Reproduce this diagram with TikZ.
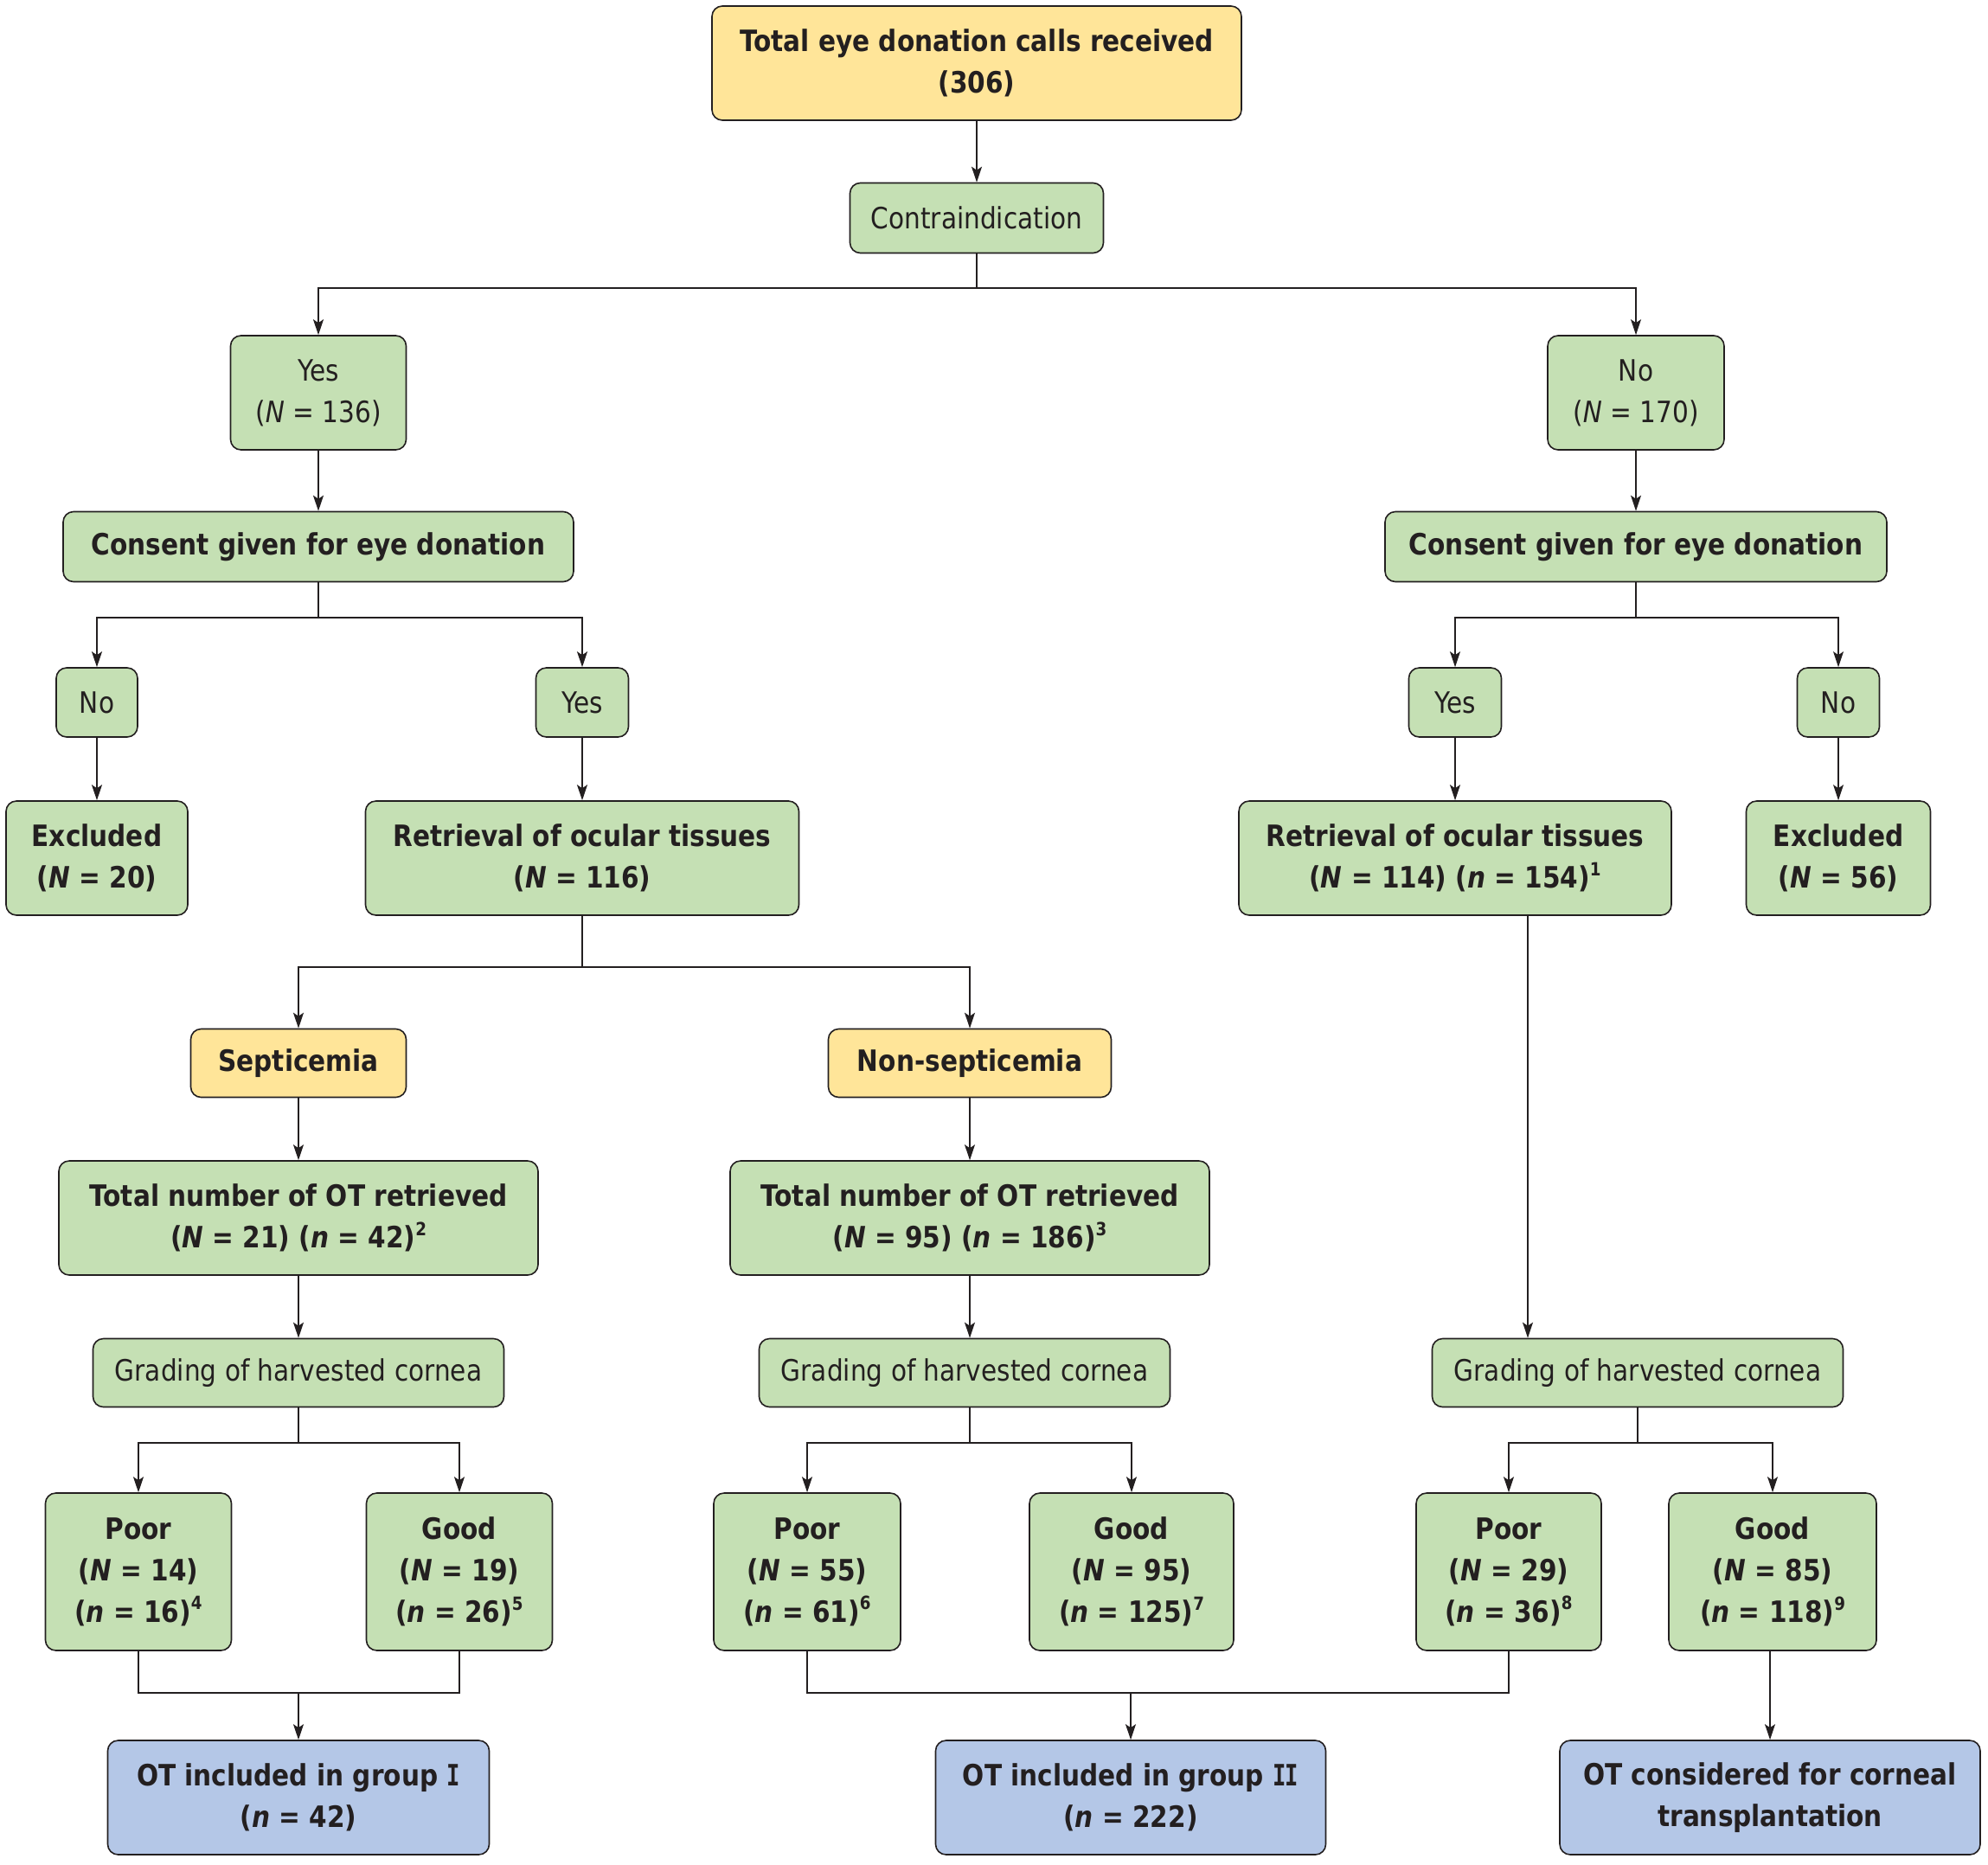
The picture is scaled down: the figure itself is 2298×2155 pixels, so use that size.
\documentclass[tikz,border=0pt]{standalone}
\usepackage{fontspec}
\setmainfont{DejaVu Sans}[FakeStretch=0.87]
\newfontfamily\ifont{DejaVu Sans Mono}[FakeStretch=0.75]
\usetikzlibrary{arrows.meta}
\definecolor{gfill}{HTML}{C5E0B4}
\definecolor{yfill}{HTML}{FFE599}
\definecolor{bfill}{HTML}{B4C7E7}
\definecolor{bord}{HTML}{231F20}
\newcommand{\sps}[1]{\raisebox{0.78ex}{\fontsize{21}{21}\selectfont #1}}
\newcommand{\serifI}{{\ifont\bfseries I}}
\tikzset{
  boxbase/.style={draw=bord, line width=1.6pt, rounded corners=12pt, align=center, inner sep=0pt, text=bord},
  gbox/.style={boxbase, fill=gfill},
  ybox/.style={boxbase, fill=yfill},
  bbox/.style={boxbase, fill=bfill},
  wh/.style 2 args={minimum width=#1, minimum height=#2},
  ln/.style={draw=bord, line width=1.4pt},
  arr/.style={ln, -{Stealth[length=18pt,width=12pt,inset=4pt]}},
}
\begin{document}
\begin{tikzpicture}[x=1pt,y=-1pt, font=\fontsize{34}{48}\selectfont]
\useasboundingbox (0,0) rectangle (2298,2155);
% nodes
\node[ybox, wh={612}{132}] (top) at (1129,73) {\bfseries Total eye donation calls received\\\bfseries(306)};
\node[gbox, wh={293}{81}] (contra) at (1129,252) {Contraindication};
\node[gbox, wh={203}{132}] (yesA) at (368,454) {Yes\\(\textit{N} = 136)};
\node[gbox, wh={204}{132}] (noA) at (1891,454) {No\\(\textit{N} = 170)};
\node[gbox, wh={590}{81}] (consL) at (368,632) {\bfseries Consent given for eye donation};
\node[gbox, wh={580}{81}] (consR) at (1891,632) {\bfseries Consent given for eye donation};
\node[gbox, wh={94}{80}] (noL) at (112,812) {No};
\node[gbox, wh={107}{80}] (yesL) at (673,812) {Yes};
\node[gbox, wh={107}{80}] (yesR) at (1682,812) {Yes};
\node[gbox, wh={95}{80}] (noR) at (2125,812) {No};
\node[gbox, wh={210}{132}] (exclL) at (112,992) {\bfseries Excluded\\\bfseries(\textit{N} = 20)};
\node[gbox, wh={501}{132}] (retrL) at (673,992) {\bfseries Retrieval of ocular tissues\\\bfseries(\textit{N} = 116)};
\node[gbox, wh={500}{132}] (retrR) at (1682,992) {\bfseries Retrieval of ocular tissues\\\bfseries(\textit{N} = 114) (\textit{n} = 154)\sps{1}};
\node[gbox, wh={213}{132}] (exclR) at (2125,992) {\bfseries Excluded\\\bfseries(\textit{N} = 56)};
\node[ybox, wh={249}{79}] (sept) at (345,1229) {\bfseries Septicemia};
\node[ybox, wh={327}{79}] (nonsept) at (1121,1229) {\bfseries Non-septicemia};
\node[gbox, wh={554}{132}] (totL) at (345,1408) {\bfseries Total number of OT retrieved\\\bfseries(\textit{N} = 21) (\textit{n} = 42)\sps{2}};
\node[gbox, wh={554}{132}] (totM) at (1121,1408) {\bfseries Total number of OT retrieved\\\bfseries(\textit{N} = 95) (\textit{n} = 186)\sps{3}};
\node[gbox, wh={475}{79}] (gradL) at (345,1587) {Grading of harvested cornea};
\node[gbox, wh={475}{79}] (gradM) at (1115,1587) {Grading of harvested cornea};
\node[gbox, wh={475}{79}] (gradR) at (1893,1587) {Grading of harvested cornea};
\node[gbox, wh={215}{182}] (poorL) at (160,1817) {\bfseries Poor\\\bfseries(\textit{N} = 14)\\\bfseries(\textit{n} = 16)\sps{4}};
\node[gbox, wh={215}{182}] (goodL) at (531,1817) {\bfseries Good\\\bfseries(\textit{N} = 19)\\\bfseries(\textit{n} = 26)\sps{5}};
\node[gbox, wh={216}{182}] (poorM) at (933,1817) {\bfseries Poor\\\bfseries(\textit{N} = 55)\\\bfseries(\textit{n} = 61)\sps{6}};
\node[gbox, wh={236}{182}] (goodM) at (1308,1817) {\bfseries Good\\\bfseries(\textit{N} = 95)\\\bfseries(\textit{n} = 125)\sps{7}};
\node[gbox, wh={214}{182}] (poorR) at (1744,1817) {\bfseries Poor\\\bfseries(\textit{N} = 29)\\\bfseries(\textit{n} = 36)\sps{8}};
\node[gbox, wh={240}{182}] (goodR) at (2049,1817) {\bfseries Good\\\bfseries(\textit{N} = 85)\\\bfseries(\textit{n} = 118)\sps{9}};
\node[bbox, wh={441}{132}] (g1) at (345,2078) {\bfseries OT included in group \serifI\\\bfseries(\textit{n} = 42)};
\node[bbox, wh={451}{132}] (g2) at (1307,2078) {\bfseries OT included in group \serifI\kern-1pt\serifI\\\bfseries(\textit{n} = 222)};
\node[bbox, wh={486}{132}] (cons) at (2046,2078) {\bfseries OT considered for corneal\\\bfseries transplantation};
% helper coordinates
\coordinate (b0) at (1129,333);
\coordinate (bL) at (368,714);
\coordinate (bR) at (1891,714);
\coordinate (bS) at (673,1118);
\coordinate (xr) at (1766,0);
\coordinate (gL) at (345,1668);
\coordinate (gM) at (1121,1668);
\coordinate (gR) at (1893,1668);
\coordinate (jL) at (345,1957);
\coordinate (jM) at (1307,1957);
% connectors
\draw[arr] (top) -- (contra);
\draw[ln] (contra.south) -- (b0);
\draw[arr] (b0) -| (yesA.north);
\draw[arr] (b0) -| (noA.north);
\draw[arr] (yesA) -- (consL);
\draw[arr] (noA) -- (consR);
\draw[ln] (consL.south) -- (bL);
\draw[arr] (bL) -| (noL.north);
\draw[arr] (bL) -| (yesL.north);
\draw[ln] (consR.south) -- (bR);
\draw[arr] (bR) -| (yesR.north);
\draw[arr] (bR) -| (noR.north);
\draw[arr] (noL) -- (exclL);
\draw[arr] (yesL) -- (retrL);
\draw[arr] (yesR) -- (retrR);
\draw[arr] (noR) -- (exclR);
\draw[ln] (retrL.south) -- (bS);
\draw[arr] (bS) -| (sept.north);
\draw[arr] (bS) -| (nonsept.north);
\draw[arr] (retrR.south -| xr) -- (gradR.north -| xr);
\draw[arr] (sept) -- (totL);
\draw[arr] (nonsept) -- (totM);
\draw[arr] (totL) -- (gradL);
\draw[arr] (totM.south) -- (totM.south |- gradM.north);
\draw[ln] (gradL.south) -- (gL);
\draw[arr] (gL) -| (poorL.north);
\draw[arr] (gL) -| (goodL.north);
\draw[ln] (gradM.south -| gM) -- (gM);
\draw[arr] (gM) -| (poorM.north);
\draw[arr] (gM) -| (goodM.north);
\draw[ln] (gradR.south) -- (gR);
\draw[arr] (gR) -| (poorR.north);
\draw[arr] (gR) -| (goodR.north);
\draw[ln] (poorL.south) |- (jL) -| (goodL.south);
\draw[arr] (jL) -- (g1.north);
\draw[ln] (poorM.south) |- (jM) -| (poorR.south);
\draw[arr] (jM) -- (g2.north);
\draw[arr] (goodR.south -| cons.north) -- (cons.north);
\end{tikzpicture}
\end{document}
